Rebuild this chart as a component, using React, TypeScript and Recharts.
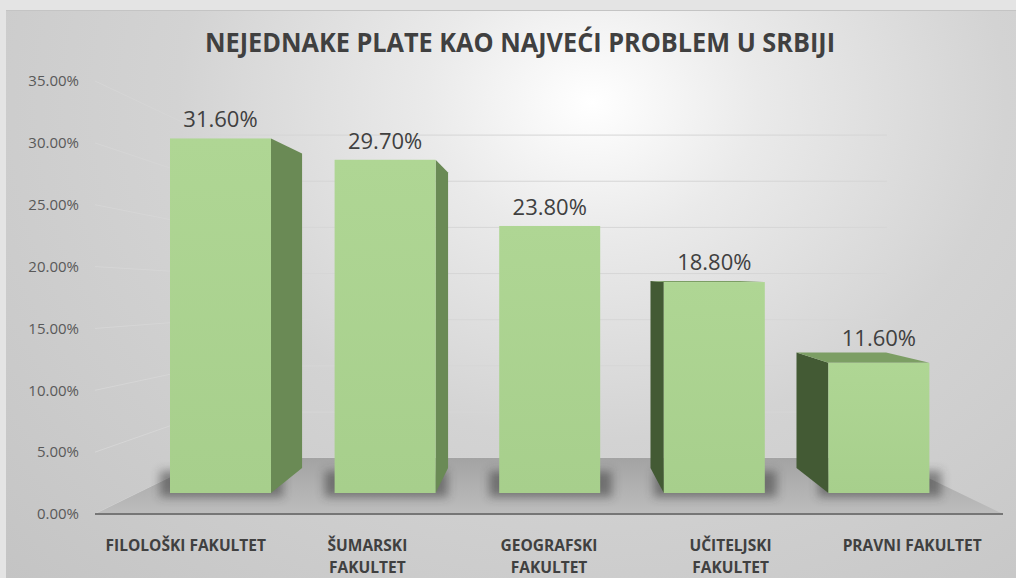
import React from "react";
import { BarChart, Bar, XAxis, YAxis, CartesianGrid, ReferenceArea } from "recharts";

const categories = [
  "FILOLOŠKI FAKULTET",
  "ŠUMARSKI\nFAKULTET",
  "GEOGRAFSKI\nFAKULTET",
  "UČITELJSKI\nFAKULTET",
  "PRAVNI FAKULTET",
];
const shares = [31.6, 29.7, 23.8, 18.8, 11.6];
const yTicks = [0, 5, 10, 15, 20, 25, 30, 35];

const data = categories.map((name, i) => ({ name, share: shares[i] }));

const font = "'Open Sans', sans-serif";
const textColor = "#404040";

// fake 3d: vanishing point of the bars and of the back wall
const VX = 546;
const VY = 272;
const BAR_K = 0.887;
const WALL_VY = 294;
const WALL_K = 0.746;

function Bar3D(props: any) {
  const { x, y, width, height } = props;
  if (!height || height <= 0) return null;
  const x2 = x + width;
  const yb = y + height;
  const bx = (v: number) => VX + (v - VX) * BAR_K;
  const by = (v: number) => VY + (v - VY) * BAR_K;
  const parts: React.ReactNode[] = [];
  parts.push(
    <rect key="sh" x={x - 10} y={yb - 22} width={width + 22} height={26} fill="#333" opacity={0.5} filter="url(#barShadow)" />
  );
  if (bx(x2) > x2) {
    parts.push(
      <polygon key="r" points={`${x2},${y} ${bx(x2)},${by(y)} ${bx(x2)},${by(yb)} ${x2},${yb}`} fill="#6a8a55" />
    );
  }
  if (bx(x) < x) {
    parts.push(
      <polygon key="l" points={`${x},${y} ${bx(x)},${by(y)} ${bx(x)},${by(yb)} ${x},${yb}`} fill="#435a34" />
    );
  }
  if (by(y) < y) {
    parts.push(
      <polygon key="t" points={`${x},${y} ${bx(x)},${by(y)} ${bx(x2)},${by(y)} ${x2},${y}`} fill="#7c9e64" />
    );
  }
  parts.push(<rect key="f" x={x} y={y} width={width} height={height} fill="url(#barFront)" />);
  return <g>{parts}</g>;
}

function Floor(props: any) {
  const { x, y, width, height } = props;
  const yf = y + height;
  const wx = (v: number) => VX + (v - VX) * WALL_K;
  const wy = (v: number) => WALL_VY + (v - WALL_VY) * WALL_K;
  return (
    <polygon
      points={`${x},${yf} ${wx(x)},${wy(yf)} ${wx(x + width)},${wy(yf)} ${x + width},${yf}`}
      fill="url(#floorFill)"
    />
  );
}

const wallLine = (p: any) => {
  const { x1, y1, x2, index } = p;
  const by = WALL_VY + (y1 - WALL_VY) * WALL_K;
  const bl = VX + (x1 - VX) * WALL_K;
  const br = VX + (x2 - VX) * WALL_K;
  return <path key={`wall-${index}`} d={`M${x1},${y1}L${bl},${by}L${br},${by}`} stroke="#d6d6d6" strokeWidth={1} fill="none" />;
};

function CategoryTick(props: any) {
  const { x, y, payload } = props;
  const lines = String(payload.value).split("\n");
  return (
    <text x={x} y={y + 29} textAnchor="middle" fontFamily={font} fontWeight={700} fontSize={15.5} fill={textColor}>
      {lines.map((l, i) => (
        <tspan key={i} x={x} dy={i === 0 ? 0 : 22}>
          {l}
        </tspan>
      ))}
    </text>
  );
}

function ValueLabel(props: any) {
  const { x, y, width, value } = props;
  const lift = y > VY ? (y - VY) * (1 - BAR_K) * 0.6 : 0;
  return (
    <text x={x + width / 2} y={y - 11 - lift} textAnchor="middle" fontFamily={font} fontSize={22} fill={textColor}>
      {Number(value).toFixed(2)}%
    </text>
  );
}

export default function App() {
  return (
    <div style={{ position: "absolute", left: 0, top: 0, width: 1016, height: 578, background: "#e4e4e4", overflow: "hidden" }}>
      <div
        style={{
          position: "absolute",
          left: 6,
          top: 10,
          width: 1010,
          height: 568,
          borderTop: "1px solid #c4c4c4",
          background:
            "radial-gradient(ellipse at 58% 16%, #ffffff 0%, #eaeaea 20%, #d3d3d3 50%, #c4c4c4 100%)",
        }}
      />
      <svg width={1016} height={80} style={{ position: "absolute", left: 0, top: 0 }}>
        <text
          x={520}
          y={52}
          textAnchor="middle"
          fontFamily={font}
          fontWeight={700}
          fontSize={26}
          fill={textColor}
          textLength={630}
          lengthAdjust="spacingAndGlyphs"
        >
          NEJEDNAKE PLATE KAO NAJVEĆI PROBLEM U SRBIJI
        </text>
      </svg>
      <div style={{ position: "absolute", left: 0, top: 0 }}>
        <BarChart width={1016} height={578} data={data} margin={{ top: 81, right: 13, bottom: 4, left: 15 }}>
          <defs>
            <linearGradient id="barFront" x1="0" y1="0" x2="0" y2="1">
              <stop offset="0%" stopColor="#afd694" />
              <stop offset="100%" stopColor="#a7cf8c" />
            </linearGradient>
            <linearGradient id="floorFill" x1="0" y1="0" x2="0" y2="1">
              <stop offset="0%" stopColor="#a3a3a3" />
              <stop offset="100%" stopColor="#bdbdbd" />
            </linearGradient>
            <filter id="barShadow" x="-30%" y="-100%" width="160%" height="300%">
              <feGaussianBlur stdDeviation="5" />
            </filter>
          </defs>
          <CartesianGrid xAxisId="front" yAxisId="front" vertical={false} horizontal={wallLine} />
          <XAxis xAxisId="back" dataKey="name" hide height={0} padding={{ left: 43, right: 42 }} />
          <XAxis
            xAxisId="front"
            dataKey="name"
            interval={0}
            height={60}
            tickLine={false}
            axisLine={{ stroke: "#767676", strokeWidth: 2 }}
            tick={<CategoryTick />}
          />
          <YAxis yAxisId="bars" hide width={0} domain={[-1.87, 36.72]} allowDataOverflow />
          <YAxis
            yAxisId="front"
            domain={[0, 35]}
            allowDataOverflow
            ticks={yTicks}
            interval={0}
            width={80}
            axisLine={false}
            tickLine={false}
            tickSize={0}
            tickMargin={16}
            tickFormatter={(v: number) => `${v.toFixed(2)}%`}
            tick={{ fontSize: 15, fill: "#595959", fontFamily: font }}
          />
          <ReferenceArea xAxisId="front" yAxisId="front" y1={0} y2={35} shape={Floor} />
          <Bar
            xAxisId="back"
            yAxisId="bars"
            dataKey="share"
            barSize={101}
            shape={Bar3D}
            label={ValueLabel}
            isAnimationActive={false}
          />
        </BarChart>
      </div>
    </div>
  );
}
